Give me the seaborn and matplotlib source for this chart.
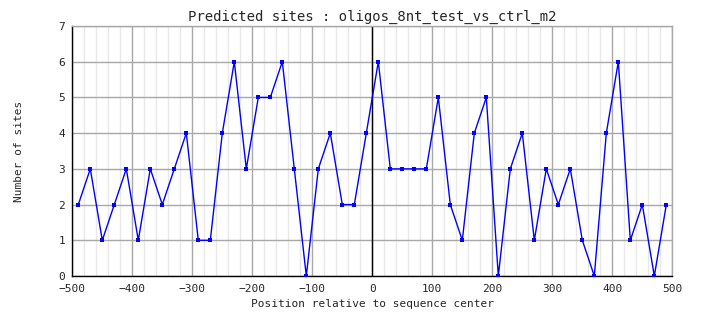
import matplotlib
matplotlib.use("Agg")
import matplotlib.pyplot as plt
import seaborn as sns
import numpy as np
import pandas as pd

positions = [-490, -470, -450, -430, -410, -390, -370, -350, -330, -310,
             -290, -270, -250, -230, -210, -190, -170, -150, -130, -110,
             -90, -70, -50, -30, -10, 10, 30, 50, 70, 90,
             110, 130, 150, 170, 190, 210, 230, 250, 270, 290,
             310, 330, 350, 370, 390, 410, 430, 450, 470, 490]
sites = [2, 3, 1, 2, 3, 1, 3, 2, 3, 4,
         1, 1, 4, 6, 3, 5, 5, 6, 3, 0,
         3, 4, 2, 2, 4, 6, 3, 3, 3, 3,
         5, 2, 1, 4, 5, 0, 3, 4, 1, 3,
         2, 3, 1, 0, 4, 6, 1, 2, 0, 2]
x_ticks = [-500, -400, -300, -200, -100, 0, 100, 200, 300, 400, 500]
y_ticks = [0, 1, 2, 3, 4, 5, 6, 7]
title = "Predicted sites : oligos_8nt_test_vs_ctrl_m2"

df = pd.DataFrame({"pos": positions, "sites": sites})

sns.set_style("white")
plt.rcParams['font.family'] = ['DejaVu Sans Mono']

fig = plt.figure(figsize=(7.04, 3.28), dpi=100)
ax = fig.add_axes([0.1027, 0.1585, 0.955 - 0.1027, 0.9207 - 0.1585])

ax.set_xlim(-500, 500)
ax.set_ylim(0, 7)
ax.set_xticks(x_ticks)
ax.set_yticks(y_ticks)
ax.set_xticks(np.arange(-500, 501, 20), minor=True)
ax.grid(True, which="major", color="#a8a8a8", linewidth=1)
ax.grid(True, which="minor", axis="x", color="#e8e8e8", linewidth=1)
ax.set_axisbelow(True)
ax.axvline(0, color="black", linewidth=1, zorder=1.5)

sns.lineplot(data=df, x="pos", y="sites", ax=ax, color="#0000ff",
             linewidth=1, marker="s", markersize=3.5, markeredgewidth=0,
             zorder=3)

ax.tick_params(which="both", length=0, labelsize=8)
ax.tick_params(axis="x", pad=6)
ax.tick_params(axis="y", pad=5)
for s in ["top", "right"]:
    ax.spines[s].set_color("#a8a8a8")
    ax.spines[s].set_linewidth(1)
for s in ["left", "bottom"]:
    ax.spines[s].set_color("black")
    ax.spines[s].set_linewidth(1)

ax.set_title(title, fontsize=10, pad=4)
ax.set_xlabel("Position relative to sequence center", fontsize=8, labelpad=3)
ax.set_ylabel("Number of sites", fontsize=8, labelpad=25)

fig.savefig("out.png", dpi=100, facecolor="white")
